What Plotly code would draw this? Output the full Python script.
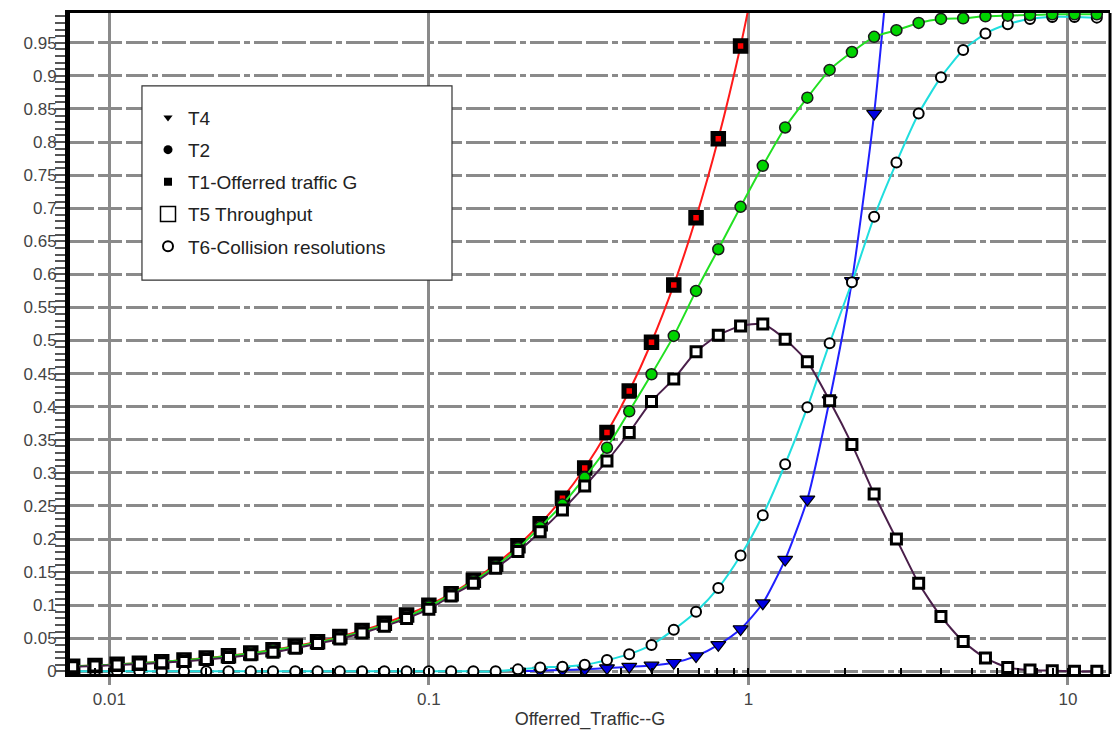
import plotly.graph_objects as go

# Offered traffic G (log-spaced sample points)
offered_g = [0.00768, 0.00902, 0.01058, 0.01242, 0.01459, 0.01713, 0.02011, 0.02360,
             0.02771, 0.03253, 0.03819, 0.04484, 0.05264, 0.06180, 0.07256, 0.08518,
             0.1, 0.1174, 0.1378, 0.1618, 0.1900, 0.2230, 0.2618, 0.3074, 0.3609,
             0.4237, 0.4974, 0.5840, 0.6856, 0.8049, 0.9450, 1.109, 1.303, 1.529,
             1.795, 2.108, 2.474, 2.905, 3.410, 4.004, 4.700, 5.518, 6.479, 7.606,
             8.929, 10.48, 12.31]

# T1 - offered traffic (first 32 sample points)
t1_offered = [0.00768, 0.00902, 0.01058, 0.01242, 0.01459, 0.01713, 0.02011, 0.02360,
              0.02771, 0.03253, 0.03819, 0.04484, 0.05264, 0.06180, 0.07256, 0.08518,
              0.1, 0.1174, 0.1378, 0.1618, 0.1900, 0.2230, 0.2618, 0.3074, 0.3609,
              0.4237, 0.4974, 0.5840, 0.6856, 0.8049, 0.9450, 1.109]

t2_values = [0.0076, 0.0089, 0.0105, 0.0123, 0.0144, 0.0169, 0.0198, 0.0232,
             0.0272, 0.0319, 0.0373, 0.0437, 0.0512, 0.0599, 0.0701, 0.0820,
             0.098, 0.116, 0.136, 0.159, 0.186, 0.218, 0.252, 0.293, 0.338,
             0.393, 0.449, 0.507, 0.575, 0.638, 0.702, 0.764, 0.822, 0.867,
             0.909, 0.936, 0.959, 0.969, 0.980, 0.986, 0.987, 0.990, 0.991, 0.992,
             0.993, 0.993, 0.993]

t5_throughput = [0.007, 0.008, 0.0095, 0.011, 0.013, 0.015, 0.018, 0.021,
                 0.025, 0.029, 0.035, 0.042, 0.049, 0.058, 0.068, 0.080,
                 0.094, 0.114, 0.133, 0.156, 0.181, 0.211, 0.244, 0.280, 0.318,
                 0.361, 0.408, 0.442, 0.483, 0.508, 0.522, 0.525, 0.502, 0.468,
                 0.409, 0.343, 0.268, 0.200, 0.133, 0.083, 0.045, 0.020, 0.006, 0.002,
                 0.001, 0.0, 0.0]

t6_collision = [0.0, 0.0, 0.0, 0.0, 0.0, 0.0, 0.0, 0.0,
                0.0, 0.0, 0.0, 0.0, 0.0, 0.0, 0.0, 0.0,
                0.0, 0.0, 0.0, 0.0, 0.003, 0.006, 0.007, 0.010, 0.017,
                0.026, 0.040, 0.063, 0.090, 0.126, 0.175, 0.236, 0.313, 0.399,
                0.496, 0.588, 0.687, 0.769, 0.843, 0.898, 0.939, 0.964, 0.978, 0.986,
                0.989, 0.989, 0.988]

# T4 starts at the 21st sample point
t4_offset = 20
t4_values = [0.0, 0.001, 0.002, 0.003, 0.005, 0.007, 0.009, 0.013, 0.023,
             0.040, 0.064, 0.103, 0.169, 0.260, 0.41, 0.59, 0.843, 1.2]

y_tickvals = [0, 0.05, 0.1, 0.15, 0.2, 0.25, 0.3, 0.35, 0.4, 0.45, 0.5,
              0.55, 0.6, 0.65, 0.7, 0.75, 0.8, 0.85, 0.9, 0.95]
y_ticktext = ["0", "0.05", "0.1", "0.15", "0.2", "0.25", "0.3", "0.35", "0.4", "0.45", "0.5",
              "0.55", "0.6", "0.65", "0.7", "0.75", "0.8", "0.85", "0.9", "0.95"]
x_tickvals = [0.01, 0.1, 1, 10]
x_ticktext = ["0.01", "0.1", "1", "10"]

legend_names = ["T4", "T2", "T1-Offerred traffic G", "T5 Throughput", "T6-Collision resolutions"]

FONT = "Liberation Sans, Arial, sans-serif"
GRID = "#8a8a8a"

fig = go.Figure()

# data traces, bottom to top
fig.add_trace(go.Scatter(
    x=offered_g[t4_offset:t4_offset + len(t4_values)], y=t4_values,
    mode="lines+markers", showlegend=False,
    line=dict(color="#2020ff", width=2, shape="spline", smoothing=0.6),
    marker=dict(symbol="triangle-down", size=13, color="#0000e0",
                line=dict(color="black", width=1.2))))

fig.add_trace(go.Scatter(
    x=offered_g, y=t6_collision,
    mode="lines+markers", showlegend=False,
    line=dict(color="#20dede", width=2, shape="spline", smoothing=0.6),
    marker=dict(symbol="circle", size=10, color="white",
                line=dict(color="black", width=2))))

fig.add_trace(go.Scatter(
    x=offered_g[:len(t1_offered)], y=t1_offered,
    mode="lines+markers", showlegend=False,
    line=dict(color="#ff1a1a", width=2, shape="spline", smoothing=0.6),
    marker=dict(symbol="square", size=10.5, color="#ff0000",
                line=dict(color="black", width=5))))

fig.add_trace(go.Scatter(
    x=offered_g, y=t2_values,
    mode="lines+markers", showlegend=False,
    line=dict(color="#22e022", width=2, shape="spline", smoothing=0.6),
    marker=dict(symbol="circle", size=11, color="#00d400",
                line=dict(color="#1a1a1a", width=1.5))))

fig.add_trace(go.Scatter(
    x=offered_g, y=t5_throughput,
    mode="lines+markers", showlegend=False,
    line=dict(color="#4a1f4a", width=2, shape="spline", smoothing=0.6),
    marker=dict(symbol="square", size=10, color="white",
                line=dict(color="black", width=3))))

# legend entries (black symbols only)
legend_markers = [
    dict(symbol="triangle-down", size=8, color="black", line=dict(width=0)),
    dict(symbol="circle", size=9, color="black", line=dict(width=0)),
    dict(symbol="square", size=8, color="black", line=dict(width=0)),
    dict(symbol="square", size=15, color="white", line=dict(color="black", width=1.5)),
    dict(symbol="circle", size=10, color="white", line=dict(color="black", width=2)),
]
for rank, (name, mk) in enumerate(zip(legend_names, legend_markers)):
    fig.add_trace(go.Scatter(
        x=[None], y=[None], mode="markers", name=name, marker=mk,
        legendgroup=name, legendrank=rank + 1, showlegend=True))

fig.update_layout(
    width=1113, height=734,
    margin=dict(l=70, r=3, t=13, b=60),
    paper_bgcolor="white", plot_bgcolor="white",
    font=dict(family=FONT, color="#333333"),
    showlegend=True,
    legend=dict(
        x=0.075, y=0.8705, xanchor="left", yanchor="top",
        bgcolor="rgba(0,0,0,0)", borderwidth=0,
        font=dict(family=FONT, size=19, color="#222222"),
        traceorder="grouped", tracegroupgap=4.5,
        itemsizing="trace"),
    shapes=[
        dict(type="rect", xref="paper", yref="paper",
             x0=0.0692, x1=0.3673, y0=0.596, y1=0.8896,
             line=dict(color="#333333", width=1.2), fillcolor="white", layer="above"),
        dict(type="line", xref="paper", yref="paper", x0=1, x1=1, y0=0, y1=1,
             line=dict(color="black", width=3)),
    ],
)

fig.update_xaxes(
    type="log", range=[-2.123, 1.1315],
    tickvals=x_tickvals, ticktext=x_ticktext,
    ticks="outside", ticklen=8, tickwidth=3, tickcolor=GRID,
    tickfont=dict(family=FONT, size=17, color="#444444"),
    showgrid=True, gridcolor=GRID, gridwidth=3,
    showline=True, linecolor="black", linewidth=3, mirror=True,
    zeroline=False,
    minor=dict(ticks="inside", ticklen=6, tickwidth=1.5, tickcolor="black",
               dtick="D1", showgrid=False),
    title=dict(text="Offerred_Traffic--G", standoff=4,
               font=dict(family=FONT, size=18, color="#333333")),
)

fig.update_yaxes(
    range=[-0.004, 0.995],
    tickvals=y_tickvals, ticktext=y_ticktext,
    ticks="outside", ticklen=10, tickwidth=2, tickcolor="#555555",
    ticklabelstandoff=-5,
    tickfont=dict(family=FONT, size=17, color="#444444"),
    showgrid=True, gridcolor=GRID, gridwidth=3,
    griddash="24px,4px,24px,4px,22px,4px,6px,4px",
    showline=True, linecolor="black", linewidth=5,
    zeroline=False,
    minor=dict(ticks="outside", ticklen=10, tickwidth=2, tickcolor="#555555",
               dtick=0.01, showgrid=False),
)

fig.write_html("out.html")
